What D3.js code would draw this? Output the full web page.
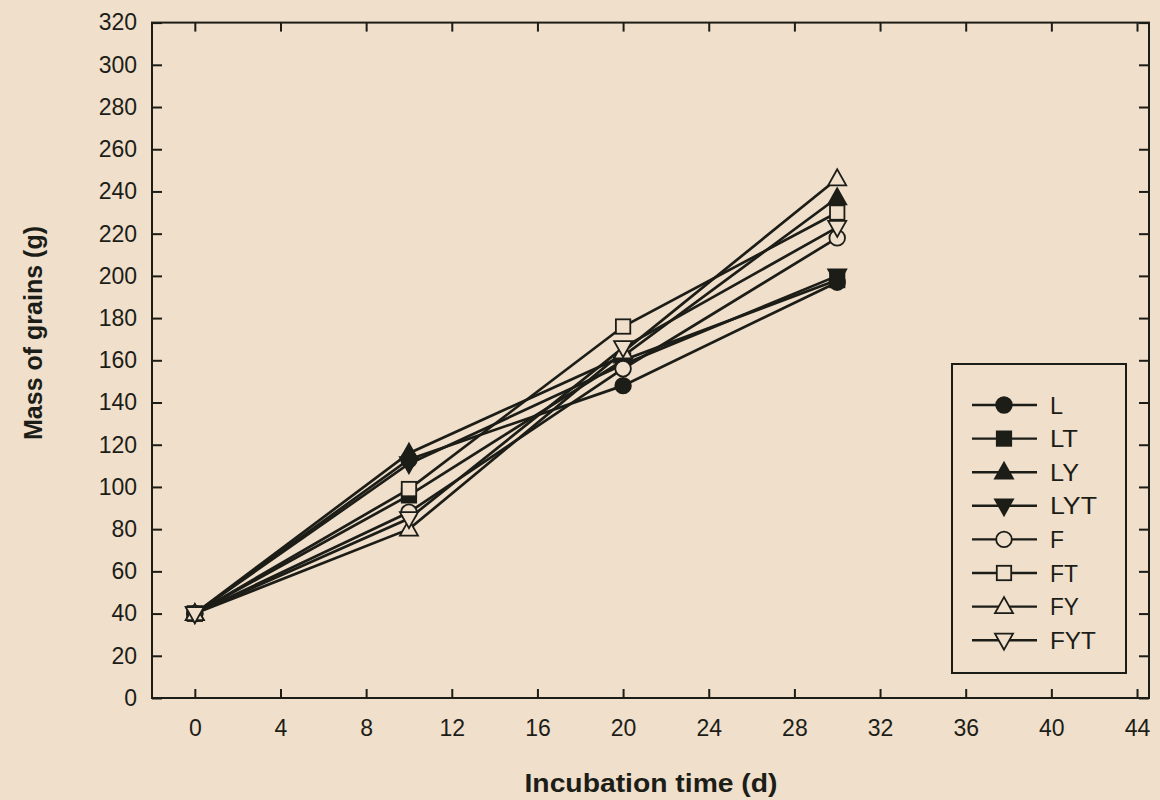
<!DOCTYPE html>
<html><head><meta charset="utf-8">
<script src="https://cdn.jsdelivr.net/npm/d3@7"></script>
<style>
html,body{margin:0;padding:0;background:#efdfcb;}
text{font-family:"Liberation Sans",Arial,sans-serif;fill:#1d1d18;}
</style></head>
<body>
<svg id="c" width="1160" height="800"></svg>
<script>
const days = [0, 10, 20, 30];
const seriesNames = ["L","LT","LY","LYT","F","FT","FY","FYT"];
const L   = [40, 113, 148, 197];
const LT  = [40,  96, 160, 198];
const LY  = [40, 116, 162, 237];
const LYT = [40, 111, 158, 200];
const F   = [40,  88, 156, 218];
const FT  = [40,  99, 176, 230];
const FY  = [40,  80, 164, 246];
const FYT = [40,  85, 166, 223];
const seriesValues = [L, LT, LY, LYT, F, FT, FY, FYT];
const xTicks = [0,4,8,12,16,20,24,28,32,36,40,44];
const yTicks = d3.range(0, 321, 20);
const markers = [
  {shape:"circle", fill:true},{shape:"square", fill:true},{shape:"up", fill:true},{shape:"down", fill:true},
  {shape:"circle", fill:false},{shape:"square", fill:false},{shape:"up", fill:false},{shape:"down", fill:false}
];

const ink = "#1d1d18", bg = "#efdfcb";
const svg = d3.select("#c");
svg.append("rect").attr("width",1160).attr("height",800).attr("fill",bg);

const pLeft=152, pRight=1149, pTop=22.6, pBottom=698;
const x = d3.scaleLinear().domain([-2, 44.56]).range([pLeft, pRight]);
const y = d3.scaleLinear().domain([0, 320]).range([pBottom, pTop]);

function axisStyle(g, hideText){
  g.select(".domain").remove();
  g.selectAll(".tick line").attr("stroke", ink).attr("stroke-width", 2);
  g.selectAll(".tick text").attr("font-size", 23).attr("fill", ink);
  if (hideText) g.selectAll(".tick text").remove();
}
svg.append("g").attr("transform",`translate(0,${pBottom})`)
  .call(d3.axisBottom(x).tickValues(xTicks).tickSize(-9).tickPadding(22).tickFormat(d3.format("d")))
  .call(g=>axisStyle(g,false));
svg.append("g").attr("transform",`translate(0,${pTop})`)
  .call(d3.axisTop(x).tickValues(xTicks).tickSize(-9))
  .call(g=>axisStyle(g,true));
svg.append("g").attr("transform",`translate(${pLeft},0)`)
  .call(d3.axisLeft(y).tickValues(yTicks).tickSize(-10).tickPadding(15).tickFormat(d3.format("d")))
  .call(g=>axisStyle(g,false));
svg.append("g").attr("transform",`translate(${pRight},0)`)
  .call(d3.axisRight(y).tickValues(yTicks).tickSize(-10))
  .call(g=>axisStyle(g,true));

svg.append("rect").attr("x",pLeft).attr("y",pTop).attr("width",pRight-pLeft).attr("height",pBottom-pTop)
  .attr("fill","none").attr("stroke",ink).attr("stroke-width",2);

// lines
const line = d3.line().x((d,i)=>x(days[i])).y(d=>y(d));
seriesValues.forEach(v=>{
  svg.append("path").attr("d", line(v)).attr("fill","none").attr("stroke",ink).attr("stroke-width",2.7);
});

function drawMarker(g, m, cx, cy){
  const fill = m.fill ? ink : bg;
  if (m.shape==="circle"){
    g.append("circle").attr("cx",cx).attr("cy",cy).attr("r",7.8).attr("fill",fill).attr("stroke",ink).attr("stroke-width",1.8);
  } else if (m.shape==="square"){
    g.append("rect").attr("x",cx-7.2).attr("y",cy-7.2).attr("width",14.4).attr("height",14.4).attr("fill",fill).attr("stroke",ink).attr("stroke-width",1.8);
  } else {
    const s = m.shape==="up" ? 1 : -1;
    const pts = [[cx, cy-9.5*s],[cx-9, cy+6.5*s],[cx+9, cy+6.5*s]];
    g.append("path").attr("d","M"+pts.map(p=>p.join(",")).join("L")+"Z").attr("fill",fill).attr("stroke",ink).attr("stroke-width",1.8);
  }
}
const mg = svg.append("g");
seriesValues.forEach((v,si)=>{
  v.forEach((d,i)=>drawMarker(mg, markers[si], x(days[i]), y(d)));
});

// legend
const lg = svg.append("g");
lg.append("rect").attr("x",952).attr("y",364).attr("width",174).attr("height",309)
  .attr("fill",bg).attr("stroke",ink).attr("stroke-width",2);
const legW = {"L":13,"LT":28,"LY":29,"LYT":47,"F":14,"FT":28,"FY":29,"FYT":46};
seriesNames.forEach((name,i)=>{
  const cy = 405 + i*33.6;
  lg.append("line").attr("x1",972).attr("x2",1037).attr("y1",cy).attr("y2",cy).attr("stroke",ink).attr("stroke-width",2.4);
  drawMarker(lg, markers[i], 1004, cy);
  lg.append("text").attr("x",1050).attr("y",cy+8.5).attr("font-size",23)
    .attr("textLength",legW[name]).attr("lengthAdjust","spacingAndGlyphs").text(name);
});

// titles
svg.append("text").attr("x",651).attr("y",792).attr("text-anchor","middle")
  .attr("font-size",25).attr("font-weight","bold")
  .attr("textLength",253).attr("lengthAdjust","spacingAndGlyphs").text("Incubation time (d)");
svg.append("text").attr("transform","translate(42,333) rotate(-90)").attr("text-anchor","middle")
  .attr("font-size",25).attr("font-weight","bold")
  .attr("textLength",214).attr("lengthAdjust","spacingAndGlyphs").text("Mass of grains (g)");
</script>
</body></html>
